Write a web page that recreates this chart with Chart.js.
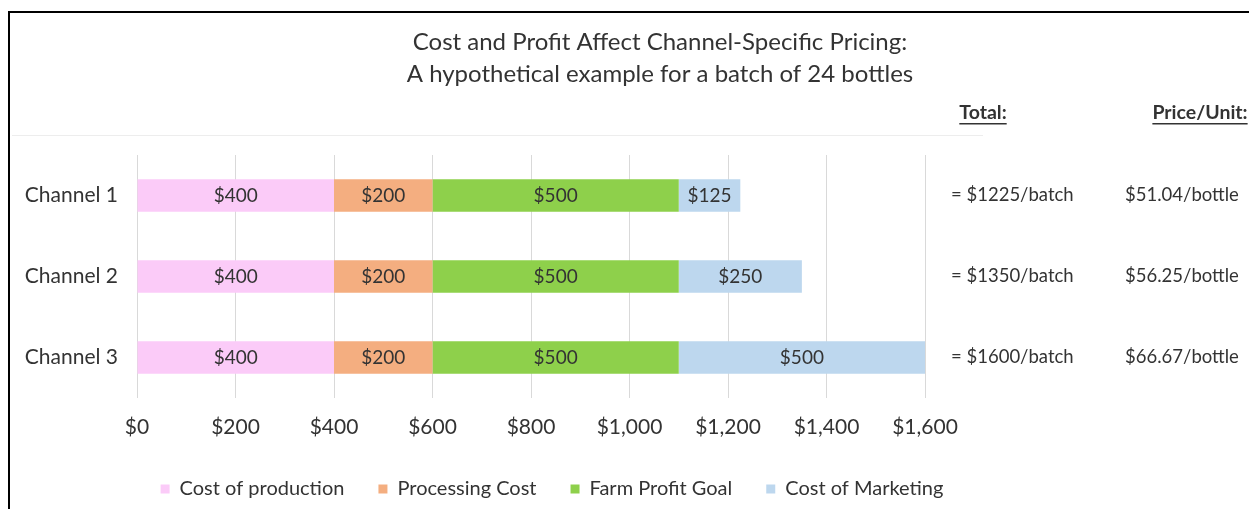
<!DOCTYPE html>
<html>
<head>
<meta charset="utf-8">
<script src="https://cdn.jsdelivr.net/npm/chart.js@4/dist/chart.umd.min.js"></script>
<style>
  html, body { margin: 0; padding: 0; background: #fff; }
</style>
</head>
<body>
<canvas id="myChart" width="1249" height="509"></canvas>
<script>
(() => {
    // Chart data
    const channels = ['Channel 1', 'Channel 2', 'Channel 3'];
    const production = [400, 400, 400];
    const processing = [200, 200, 200];
    const profitGoal = [500, 500, 500];
    const marketing = [125, 250, 500];
    const bottlesPerBatch = 24;
    const titleLines = [
      'Cost and Profit Affect Channel-Specific Pricing:',
      'A hypothetical example for a batch of 24 bottles'
    ];
    const headers = ['Total:', 'Price/Unit:'];

    const textColor = '#333333';
    const font = 'Lato, "Open Sans", sans-serif';

    const totals = channels.map((c, i) => production[i] + processing[i] + profitGoal[i] + marketing[i]);

    // extra text: frame, title, bar labels, totals columns
    const extras = {
      id: 'extras',
      beforeDraw(chart) {
        const c = chart.ctx;
        c.save();
        c.fillStyle = '#000';
        c.fillRect(8, 11, chart.width - 8, 2);
        c.fillRect(8, 11, 2, chart.height - 11);
        c.fillStyle = '#ededed';
        c.fillRect(12, 135, 971, 1);
        c.restore();
      },
      afterDraw(chart) {
        const c = chart.ctx;
        const y = chart.scales.y;
        const right = chart.chartArea.right;
        c.save();
        c.fillStyle = textColor;
        c.textBaseline = 'middle';

        c.font = '24px ' + font;
        c.textAlign = 'center';
        titleLines.forEach((t, i) => c.fillText(t, 660, 42 + i * 32));

        c.font = 'bold 19.5px ' + font;
        const hx = [983, 1200];
        headers.forEach((h, i) => {
          c.fillText(h, hx[i], 113);
          const w = c.measureText(h).width;
          c.fillRect(hx[i] - w / 2, 123, w, 1.5);
        });

        c.textAlign = 'left';
        c.font = '18.5px ' + font;
        totals.forEach((t, i) => {
          const py = y.getPixelForValue(i);
          c.fillText('= $' + t + '/batch', right + 26, py);
          c.fillText('$' + (t / bottlesPerBatch).toFixed(2) + '/bottle', right + 200, py);
        });
        c.restore();
      },
      afterDatasetsDraw(chart) {
        const c = chart.ctx;
        c.save();
        c.fillStyle = textColor;
        c.font = '19px ' + font;
        c.textAlign = 'center';
        c.textBaseline = 'middle';
        chart.data.datasets.forEach((ds, di) => {
          chart.getDatasetMeta(di).data.forEach((bar, i) => {
            c.fillText('$' + ds.data[i], (bar.x + bar.base) / 2, bar.y);
          });
        });
        c.restore();
      }
    };

    const ctx = document.getElementById('myChart');

    new Chart(ctx, {
        type: 'bar',
        data: {
          labels: channels,
          datasets: [
            { label: 'Cost of production', data: production, backgroundColor: '#fbcbf8' },
            { label: 'Processing Cost', data: processing, backgroundColor: '#f4ae80' },
            { label: 'Farm Profit Goal', data: profitGoal, backgroundColor: '#8ed04b' },
            { label: 'Cost of Marketing', data: marketing, backgroundColor: '#bdd7ee' }
          ]
        },
        options: {
            indexAxis: 'y',
            responsive: false,
            animation: false,
            categoryPercentage: 1,
            barPercentage: 0.4,
            layout: { padding: { top: 155, left: 0, right: 145, bottom: 0 } },
            scales: {
                x: {
                    stacked: true,
                    min: 0,
                    max: 1600,
                    ticks: {
                        stepSize: 200,
                        padding: 17,
                        color: textColor,
                        font: { family: font, size: 21 },
                        callback: v => '$' + v.toLocaleString('en-US')
                    },
                    grid: { color: '#d9d9d9', drawTicks: false },
                    border: { display: false },
                    afterFit: s => { s.height = 47; }
                },
                y: {
                    stacked: true,
                    ticks: {
                        padding: 11,
                        color: textColor,
                        font: { family: font, size: 21 }
                    },
                    grid: { display: false },
                    border: { display: false },
                    afterFit: s => { s.width = 137; }
                },
                // empty right axis keeps room for the totals columns
                yRight: {
                    type: 'category',
                    position: 'right',
                    ticks: { display: false },
                    grid: { display: false },
                    border: { display: false },
                    afterFit: s => { s.width = 179; }
                }
            },
            plugins: {
                title: { display: false },
                tooltip: { enabled: false },
                legend: {
                    position: 'bottom',
                    labels: {
                        boxWidth: 9,
                        boxHeight: 9,
                        padding: 34,
                        color: textColor,
                        font: { family: font, size: 20 }
                    }
                }
            }
        },
        plugins: [extras]
    });
})();
</script>
</body>
</html>
